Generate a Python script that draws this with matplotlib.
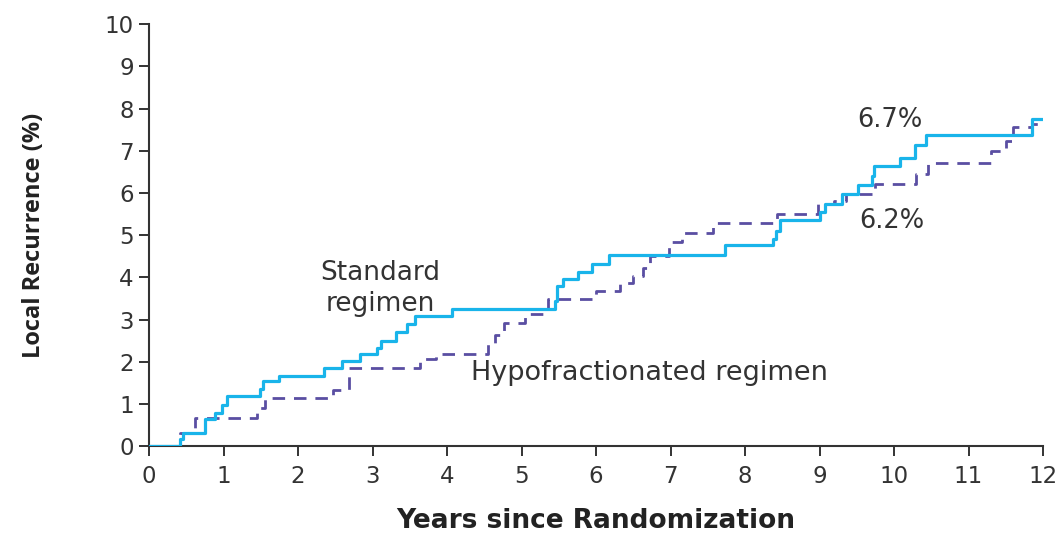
import matplotlib
matplotlib.use('Agg')
import matplotlib.pyplot as plt

plt.rcParams['font.family'] = ['DejaVu Sans']

COLOR_STD = '#19b4ea'
COLOR_HYPO = '#5a4ea2'
COLOR_AXIS = '#333333'
COLOR_TEXT = '#333333'

# Standard regimen: step times (years) and cumulative recurrence (%)
std_years = [0, 0.42, 0.46, 0.75, 0.89, 0.98, 1.04, 1.49, 1.53, 1.74, 2.35, 2.59,
             2.83, 3.06, 3.12, 3.32, 3.46, 3.57, 4.06, 5.45, 5.47, 5.55, 5.76,
             5.95, 6.17, 7.73, 8.38, 8.42, 8.47, 9.0, 9.08, 9.3, 9.52, 9.7, 9.73,
             10.08, 10.28, 10.43, 11.85, 11.98]
std_pct = [0, 0.17, 0.33, 0.65, 0.80, 0.99, 1.19, 1.35, 1.54, 1.66, 1.85, 2.02,
           2.18, 2.34, 2.50, 2.70, 2.89, 3.09, 3.25, 3.44, 3.80, 3.96, 4.14,
           4.33, 4.53, 4.78, 4.92, 5.11, 5.36, 5.56, 5.74, 5.98, 6.20, 6.41, 6.63,
           6.83, 7.13, 7.38, 7.74, 7.74]

# Hypofractionated regimen
hypo_years = [0, 0.42, 0.62, 1.45, 1.55, 2.47, 2.68, 3.64, 3.85, 4.55, 4.65, 4.76,
              5.05, 5.35, 6.0, 6.32, 6.5, 6.63, 6.72, 6.98, 7.15, 7.57, 8.43,
              8.98, 9.2, 9.35, 9.74, 10.3, 10.45, 11.3, 11.5, 11.6, 11.85, 11.98]
hypo_pct = [0, 0.32, 0.67, 0.92, 1.15, 1.33, 1.85, 2.06, 2.18, 2.42, 2.65, 2.93,
            3.13, 3.48, 3.68, 3.86, 4.04, 4.23, 4.51, 4.85, 5.05, 5.28, 5.50,
            5.74, 5.82, 5.98, 6.21, 6.45, 6.71, 7.0, 7.24, 7.57, 7.64, 7.64]

x_ticks = list(range(0, 13))
y_ticks = list(range(0, 11))

fig = plt.figure(figsize=(10.6, 5.36), dpi=100)
ax = fig.add_axes([0.1406, 0.1670, 0.8434, 0.7882])

ax.step(hypo_years, hypo_pct, where='post', color=COLOR_HYPO, linewidth=2.0,
        linestyle=(0, (4.5, 3.2)), zorder=2)
ax.step(std_years, std_pct, where='post', color=COLOR_STD, linewidth=2.3,
        zorder=3)

# Curve labels
ax.text(3.1, 3.75, 'Standard\nregimen', fontsize=19, color=COLOR_TEXT,
        ha='center', va='center', linespacing=1.25)
ax.text(6.72, 1.73, 'Hypofractionated regimen', fontsize=19.5, color=COLOR_TEXT,
        ha='center', va='center')
ax.text(9.95, 7.72, '6.7%', fontsize=18.5, color=COLOR_TEXT, ha='center', va='center')
ax.text(9.97, 5.34, '6.2%', fontsize=18.5, color=COLOR_TEXT, ha='center', va='center')

ax.set_xlim(0, 12)
ax.set_ylim(0, 10)
ax.set_xticks(x_ticks)
ax.set_yticks(y_ticks)
ax.tick_params(axis='both', direction='out', length=7, width=1.4, color=COLOR_AXIS,
               labelsize=16.5, labelcolor=COLOR_TEXT)
ax.tick_params(axis='x', pad=6)
ax.tick_params(axis='y', pad=4)

ax.spines['top'].set_visible(False)
ax.spines['right'].set_visible(False)
for s in ('left', 'bottom'):
    ax.spines[s].set_linewidth(1.5)
    ax.spines[s].set_color(COLOR_AXIS)

ax.set_xlabel('Years since Randomization', fontsize=19, fontweight='bold',
              color='#222222', labelpad=15)
ax.set_ylabel('Local Recurrence (%)', fontsize=17, fontweight='bold',
              color='#222222', labelpad=42, family=['Open Sans', 'DejaVu Sans'])

fig.savefig('out.png', dpi=100)
